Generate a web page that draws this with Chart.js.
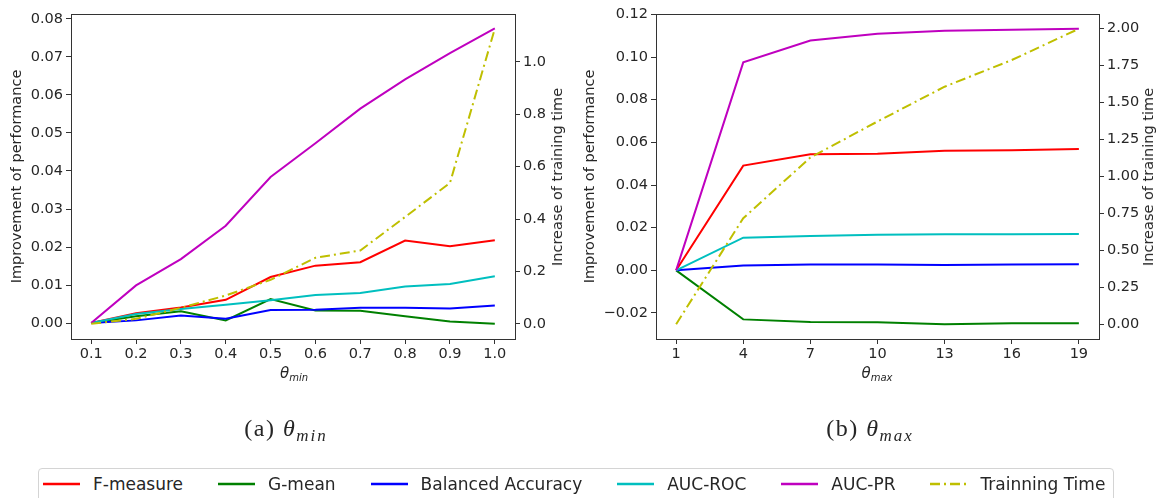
<!DOCTYPE html>
<html lang="en">
<head>
<meta charset="UTF-8" />
<title>theta_min / theta_max</title>
<script src="https://cdn.jsdelivr.net/npm/chart.js"></script>
<style>
  body { margin: 0; background: #fff; }
  #page { position: relative; width: 1162px; height: 498px; overflow: hidden; font-family: "DejaVu Sans", sans-serif; color: #262626; }
  .plot { position: absolute; top: 0; }
  .ytitle2 { position: absolute; font-size: 14.5px; white-space: nowrap; transform: translate(-50%, -50%) rotate(-90deg); }
  .xtitle { position: absolute; font-size: 15px; line-height: 18px; font-style: italic; transform: translateX(-50%); white-space: nowrap; }
  .xtitle sub { font-size: 10px; vertical-align: -3px; }
  .caption { position: absolute; font-family: "Liberation Serif", serif; font-size: 24px; line-height: 26px; letter-spacing: 1.5px; transform: translateX(-50%); white-space: nowrap; }
  .caption sub { font-size: 17px; vertical-align: -5px; letter-spacing: 2px; }
  #legend { position: absolute; left: 38px; top: 468px; width: 1076px; height: 40px; box-sizing: border-box;
            border: 1px solid #d4d4d4; border-radius: 4px; display: flex; align-items: flex-start; padding-left: 4px; }
  #legend .item { display: flex; align-items: center; height: 30px; font-size: 17px; margin-right: 35px; white-space: nowrap; }
  #legend svg { margin-right: 13px; }
</style>
</head>
<body>
<div id="page">
  <div class="plot" style="left:0"><canvas id="cMin" width="580" height="375"></canvas></div>
  <div class="plot" style="left:580px"><canvas id="cMax" width="582" height="375"></canvas></div>

  <div class="ytitle2" style="left:557px; top:177px">Increase of training time</div>
  <div class="ytitle2" style="left:1148px; top:177px">Increase of training time</div>

  <div class="xtitle" style="left:294px; top:364px">θ<sub>min</sub></div>
  <div class="xtitle" style="left:877px; top:364px">θ<sub>max</sub></div>

  <div class="caption" style="left:286px; top:415px">(a)&nbsp;<i>θ</i><sub><i>min</i></sub></div>
  <div class="caption" style="left:870px; top:415px">(b)&nbsp;<i>θ</i><sub><i>max</i></sub></div>

  <div id="legend"></div>
</div>

<script>
  // series names and colours (matplotlib r, g, b, c, m, y)
  const seriesNames = ["F-measure", "G-mean", "Balanced Accuracy", "AUC-ROC", "AUC-PR", "Trainning Time"];
  const seriesColors = ["#ff0000", "#008000", "#0000ff", "#00bfbf", "#bf00bf", "#bfbf00"];

  // (a) theta_min
  const thetaMin = [0.1, 0.2, 0.3, 0.4, 0.5, 0.6, 0.7, 0.8, 0.9, 1.0];
  const minFMeasure = [0, 0.0026, 0.0041, 0.0061, 0.0121, 0.0151, 0.0160, 0.0217, 0.0202, 0.0218];
  const minGMean = [0, 0.0018, 0.0031, 0.0007, 0.0063, 0.0033, 0.0032, 0.0018, 0.0004, -0.0002];
  const minBalAcc = [0, 0.0007, 0.0020, 0.0011, 0.0034, 0.0035, 0.0040, 0.0040, 0.0038, 0.0046];
  const minAucRoc = [0, 0.0024, 0.0037, 0.0048, 0.0060, 0.0074, 0.0079, 0.0096, 0.0103, 0.0123];
  const minAucPr = [0, 0.0099, 0.0168, 0.0256, 0.0384, 0.0473, 0.0564, 0.0641, 0.0710, 0.0775];
  const minTime = [0, 0.019, 0.061, 0.108, 0.168, 0.252, 0.280, 0.408, 0.538, 1.127];
  const minPerfTicks = [0, 0.01, 0.02, 0.03, 0.04, 0.05, 0.06, 0.07, 0.08];
  const minTimeTicks = [0, 0.2, 0.4, 0.6, 0.8, 1.0];

  // (b) theta_max
  const thetaMax = [1, 4, 7, 10, 13, 16, 19];
  const maxFMeasure = [0, 0.0491, 0.0544, 0.0547, 0.0561, 0.0563, 0.0569];
  const maxGMean = [0, -0.0230, -0.0242, -0.0244, -0.0253, -0.0248, -0.0248];
  const maxBalAcc = [0, 0.0023, 0.0027, 0.0027, 0.0025, 0.0027, 0.0028];
  const maxAucRoc = [0, 0.0153, 0.0161, 0.0167, 0.0169, 0.0169, 0.0170];
  const maxAucPr = [0, 0.0975, 0.1078, 0.1109, 0.1123, 0.1128, 0.1133];
  const maxTime = [0, 0.716, 1.126, 1.369, 1.604, 1.784, 1.995];
  const maxPerfTicks = [-0.02, 0, 0.02, 0.04, 0.06, 0.08, 0.10, 0.12];
  const maxTimeTicks = [0, 0.25, 0.5, 0.75, 1.0, 1.25, 1.5, 1.75, 2.0];

  const tickFont = { family: "DejaVu Sans", size: 14.5 };
  const ink = "#262626";
  const dashDot = [10, 4, 2, 4];

  const frame = {
    id: "frame",
    afterDraw(chart) {
      const { ctx, chartArea: a } = chart;
      ctx.save();
      ctx.strokeStyle = "#333";
      ctx.lineWidth = 1;
      ctx.strokeRect(Math.round(a.left) + 0.5, Math.round(a.top) + 0.5, Math.round(a.right - a.left), Math.round(a.bottom - a.top));
      ctx.restore();
    }
  };

  const fmt = (digits) => (v) => v.toFixed(digits).replace("-", "\u2212");

  function makeChart(id, xs, perf, time, opt) {
    const perfSets = perf.map((arr, i) => ({
      label: seriesNames[i],
      data: xs.map((x, k) => ({ x: x, y: arr[k] })),
      borderColor: seriesColors[i],
      borderWidth: 2,
      pointRadius: 0,
      yAxisID: "y",
      order: 5 - i
    }));
    const timeSet = {
      label: seriesNames[5],
      data: xs.map((x, k) => ({ x: x, y: time[k] })),
      borderColor: seriesColors[5],
      borderWidth: 2,
      borderDash: dashDot,
      pointRadius: 0,
      yAxisID: "y2",
      order: 0
    };
    const axisGrid = { drawOnChartArea: false, color: "#333", tickLength: 5, tickWidth: 1 };
    return new Chart(document.getElementById(id), {
      type: "line",
      data: { datasets: perfSets.concat([timeSet]) },
      plugins: [frame],
      options: {
        responsive: false,
        animation: false,
        layout: { padding: { top: 14, left: 0, right: 0, bottom: 0 } },
        plugins: { legend: { display: false }, tooltip: { enabled: false } },
        scales: {
          x: {
            type: "linear", min: opt.xMin, max: opt.xMax,
            afterBuildTicks: (s) => { s.ticks = opt.xTicks.map((v) => ({ value: v })); },
            afterFit: (s) => { s.height = 36; },
            ticks: { callback: opt.xFmt, font: tickFont, color: ink, padding: 2, maxRotation: 0, autoSkip: false },
            grid: axisGrid, border: { display: false }
          },
          y: {
            position: "left", min: opt.yMin, max: opt.yMax,
            afterBuildTicks: (s) => { s.ticks = opt.yTicks.map((v) => ({ value: v })); },
            afterFit: (s) => { s.width = opt.leftW; },
            ticks: { callback: fmt(2), font: tickFont, color: ink, padding: 3 },
            title: { display: true, text: "Improvement of performance", font: tickFont, color: ink, padding: { top: opt.titlePad, bottom: 0 } },
            grid: axisGrid, border: { display: false }
          },
          y2: {
            position: "right", min: opt.tMin, max: opt.tMax,
            afterBuildTicks: (s) => { s.ticks = opt.tTicks.map((v) => ({ value: v })); },
            afterFit: (s) => { s.width = opt.rightW; },
            ticks: { callback: fmt(opt.tDigits), font: tickFont, color: ink, padding: 3 },
            grid: axisGrid, border: { display: false }
          }
        }
      }
    });
  }

  makeChart("cMin", thetaMin, [minFMeasure, minGMean, minBalAcc, minAucRoc, minAucPr], minTime, {
    xMin: 0.055, xMax: 1.045, xTicks: thetaMin, xFmt: (v) => v.toFixed(1),
    yMin: -0.0042, yMax: 0.0813, yTicks: minPerfTicks,
    tMin: -0.058, tMax: 1.183, tTicks: minTimeTicks, tDigits: 1,
    leftW: 71, rightW: 65, titlePad: 9
  });

  makeChart("cMax", thetaMax, [maxFMeasure, maxGMean, maxBalAcc, maxAucRoc, maxAucPr], maxTime, {
    xMin: 0.1, xMax: 19.9, xTicks: thetaMax, xFmt: (v) => String(v),
    yMin: -0.0322, yMax: 0.1202, yTicks: maxPerfTicks,
    tMin: -0.1, tMax: 2.095, tTicks: maxTimeTicks, tDigits: 2,
    leftW: 76, rightW: 63, titlePad: 2
  });

  // shared legend
  const legend = document.getElementById("legend");
  seriesNames.forEach((name, i) => {
    const dash = i === 5 ? ' stroke-dasharray="10 4 2 4"' : "";
    const item = document.createElement("span");
    item.className = "item";
    item.innerHTML = '<svg width="37" height="6"><line x1="0" y1="3" x2="37" y2="3" stroke="' +
      seriesColors[i] + '" stroke-width="2.5"' + dash + '/></svg>' + name;
    legend.appendChild(item);
  });
</script>
</body>
</html>
